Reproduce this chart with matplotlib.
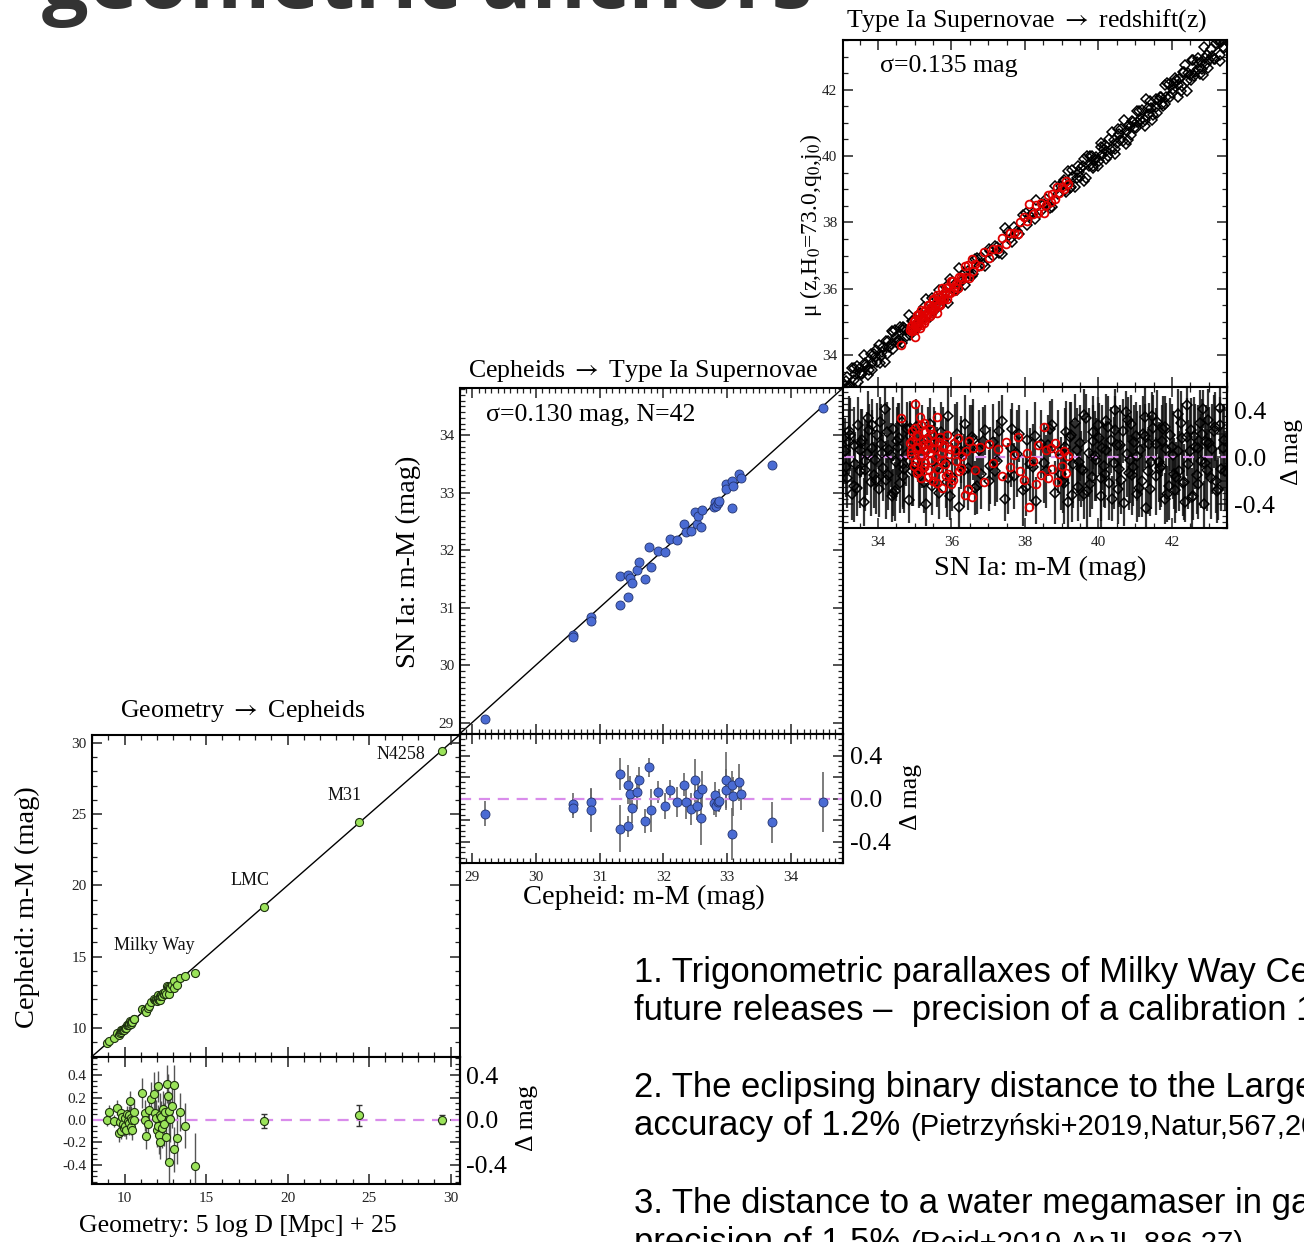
"""Distance-ladder slide: geometry -> Cepheids -> SN Ia -> redshift."""

import matplotlib
matplotlib.use("Agg")
import matplotlib.pyplot as plt
from matplotlib.ticker import FixedLocator, FormatStrFormatter, MultipleLocator

W, H, DPI = 1304, 1242, 100

# ---- Geometry -> Cepheids (Milky Way parallaxes + anchors) ----
mw_x = [8.94, 9.04, 9.34, 9.53, 9.63, 9.70, 9.79, 9.80, 9.86, 9.90,
        9.95, 10.00, 10.05, 10.10, 10.14, 10.20, 10.25, 10.30, 10.35, 10.37,
        10.42, 10.46, 10.48, 10.56, 10.60, 11.06, 11.23, 11.25, 11.29, 11.43,
        11.47, 11.64, 11.80, 11.88, 11.95, 12.00, 12.02, 12.06, 12.10, 12.15,
        12.20, 12.25, 12.30, 12.35, 12.40, 12.45, 12.56, 12.60, 12.65, 12.70,
        12.72, 12.80, 12.90, 13.02, 13.06, 13.21, 13.42, 13.68, 14.29]
mw_d = [0.00, 0.07, -0.01, 0.11, -0.12, -0.02, -0.10, 0.06, 0.03, -0.04,
        -0.07, 0.02, -0.05, -0.09, 0.05, -0.01, -0.03, 0.04, 0.17, -0.06,
        0.02, 0.00, -0.09, 0.07, 0.00, 0.24, 0.06, 0.00, -0.14, -0.04,
        0.09, 0.19, 0.23, 0.06, 0.02, -0.09, 0.30, -0.05, -0.13, -0.20,
        0.04, 0.03, -0.07, 0.10, -0.04, 0.07, -0.15, 0.32, 0.21, 0.08,
        -0.37, 0.01, 0.12, 0.31, -0.26, -0.16, 0.07, -0.05, -0.41]
mw_err = [0.05, 0.06, 0.05, 0.07, 0.08, 0.06, 0.07, 0.06, 0.05, 0.08,
          0.07, 0.06, 0.09, 0.08, 0.07, 0.06, 0.10, 0.08, 0.09, 0.07,
          0.10, 0.08, 0.09, 0.12, 0.11, 0.13, 0.12, 0.10, 0.12, 0.14,
          0.11, 0.15, 0.20, 0.13, 0.16, 0.15, 0.14, 0.18, 0.17, 0.15,
          0.20, 0.14, 0.18, 0.16, 0.19, 0.15, 0.22, 0.17, 0.20, 0.18,
          0.30, 0.21, 0.19, 0.18, 0.20, 0.23, 0.17, 0.20, 0.29]

anchor_names = ["LMC", "M31", "N4258"]
anchor_x = [18.53, 24.38, 29.45]
anchor_d = [-0.01, 0.04, 0.00]
anchor_err = [0.06, 0.09, 0.04]

# ---- Cepheids -> SN Ia (42 calibrators) ----
ceph_x = [29.20, 30.58, 30.58, 30.87, 30.87, 31.32, 31.32, 31.44, 31.44, 31.48,
          31.51, 31.59, 31.62, 31.71, 31.77, 31.81, 31.92, 32.03, 32.11, 32.21,
          32.32, 32.35, 32.44, 32.49, 32.53, 32.55, 32.59, 32.60, 32.79, 32.81,
          32.83, 32.85, 32.87, 32.98, 32.99, 33.07, 33.08, 33.09, 33.18, 33.22,
          33.70, 34.50]
ceph_d = [-0.14, -0.05, -0.09, -0.03, -0.11, 0.23, -0.28, 0.13, -0.26, 0.04,
          -0.09, 0.06, 0.17, -0.21, 0.29, -0.11, 0.06, -0.07, 0.08, -0.03,
          0.13, -0.03, -0.10, 0.17, -0.07, 0.04, -0.18, 0.09, -0.04, 0.03,
          -0.07, -0.03, -0.02, 0.17, 0.08, -0.33, 0.13, 0.02, 0.15, 0.04,
          -0.22, -0.03]
ceph_err = [0.12, 0.10, 0.09, 0.13, 0.20, 0.15, 0.22, 0.18, 0.10, 0.17,
            0.14, 0.16, 0.12, 0.11, 0.09, 0.20, 0.10, 0.12, 0.09, 0.14,
            0.11, 0.16, 0.15, 0.20, 0.13, 0.15, 0.25, 0.17, 0.11, 0.12,
            0.10, 0.09, 0.11, 0.26, 0.19, 0.24, 0.13, 0.18, 0.17, 0.15,
            0.19, 0.28]

# ---- SN Ia -> redshift (Hubble-flow sample, black) ----
hf_x = [33.10, 33.17, 33.21, 33.29, 33.34, 33.38, 33.46,
        33.50, 33.58, 33.61, 33.69, 33.73, 33.81, 33.85, 33.93, 33.98,
        34.02, 34.08, 34.15, 34.19, 34.27, 34.30, 34.38, 34.42, 34.49,
        34.53, 34.61, 34.65, 34.72, 34.76, 34.84, 34.88, 34.96,
        35.03, 35.12, 35.19, 35.30, 35.37, 35.48,
        35.55, 35.66, 35.73, 35.84, 35.91,
        36.02, 36.09, 36.21, 36.27, 36.38, 36.45,
        36.56, 36.63, 36.74, 36.81, 36.92,
        37.01, 37.13, 37.23, 37.37, 37.47,
        37.61, 37.71, 37.85, 37.95,
        38.07, 38.21, 38.31, 38.45,
        38.57, 38.67, 38.81, 38.91,
        39.03, 39.08, 39.17, 39.22, 39.31, 39.36, 39.45,
        39.50, 39.58, 39.62, 39.70, 39.74, 39.82, 39.86, 39.94, 39.98,
        40.06, 40.10, 40.18, 40.22, 40.30, 40.34, 40.42, 40.46,
        40.54, 40.58, 40.66, 40.70, 40.78, 40.82, 40.90, 40.94,
        41.02, 41.06, 41.14, 41.18, 41.26, 41.30, 41.38, 41.42, 41.48,
        41.56, 41.60, 41.68, 41.72, 41.80, 41.84, 41.92, 41.96,
        42.04, 42.08, 42.16, 42.20, 42.28, 42.32, 42.40, 42.44,
        42.52, 42.56, 42.64, 42.68, 42.76, 42.80, 42.88, 42.92, 42.98,
        43.06, 43.10, 43.18, 43.22, 43.30, 43.34, 43.42,
        33.14, 33.25, 33.42, 33.55, 33.66, 33.77, 33.89,
        34.05, 34.23, 34.35, 34.46, 34.57, 34.69, 34.80, 34.92,
        35.08, 35.25, 35.42, 35.60, 35.78, 35.97,
        36.15, 36.33, 36.50, 36.69, 36.87,
        37.06, 37.29, 37.54, 37.78,
        38.02, 38.27, 38.51, 38.74, 38.97,
        39.12, 39.27, 39.41, 39.54, 39.66, 39.78, 39.90,
        40.02, 40.14, 40.26, 40.38, 40.50, 40.62, 40.74, 40.86, 40.98,
        41.10, 41.22, 41.34, 41.45, 41.64, 41.76, 41.88,
        42.00, 42.12, 42.24, 42.36, 42.48, 42.60, 42.72, 42.84, 42.95,
        43.14, 43.26, 43.38,
        33.20, 33.36, 33.52, 33.64, 33.83, 33.95, 34.12, 34.25, 34.40, 34.55,
        34.68, 34.86, 35.15, 35.52, 35.88, 36.25, 36.60, 37.18, 37.66, 38.14,
        38.62, 39.06, 39.25, 39.48, 39.60, 39.84, 40.08, 40.20, 40.44, 40.56,
        40.80, 40.92, 41.04, 41.28, 41.40, 41.58, 41.70, 41.82, 42.06, 42.18,
        42.30, 42.42, 42.58, 42.70, 42.82, 42.90, 43.02, 43.20, 43.32, 43.44]
hf_d = [0.05, -0.18, 0.22, -0.31, 0.10, -0.06, 0.27,
        -0.12, 0.15, -0.38, 0.03, 0.33, -0.21, 0.08, -0.02, 0.19,
        -0.27, 0.11, -0.09, 0.41, -0.15, 0.06, -0.33, 0.24, -0.04,
        0.14, -0.22, 0.30, -0.10, 0.02, -0.36, 0.18, -0.07,
        0.26, -0.13, 0.09, -0.40, 0.16, -0.24,
        0.07, -0.30, 0.21, -0.05, 0.35,
        -0.17, 0.12, -0.42, 0.04, 0.28, -0.09,
        0.17, -0.26, 0.06, -0.14, 0.23,
        -0.20, 0.13, -0.03, 0.31, -0.35,
        0.08, -0.16, 0.20, -0.28,
        0.15, -0.08, -0.37, 0.11,
        -0.12, 0.24, -0.30, 0.05,
        -0.19, 0.09, -0.38, 0.17, -0.06, 0.29, -0.25,
        0.12, -0.11, 0.36, -0.29, 0.04, -0.17, 0.21, -0.02, 0.27,
        -0.33, 0.08, -0.14, 0.31, -0.22, 0.15, -0.05, 0.40,
        -0.27, 0.10, 0.22, -0.39, 0.03, -0.13, 0.28, -0.08,
        0.18, -0.31, 0.06, -0.20, 0.34, -0.43, 0.11, -0.04, 0.25,
        -0.16, 0.30, -0.09, 0.14, -0.35, 0.07, -0.24, 0.19,
        0.02, -0.28, 0.37, -0.12, 0.16, -0.21, 0.44, -0.06,
        0.23, -0.34, 0.09, -0.15, 0.29, -0.03, -0.40, 0.13, 0.32,
        -0.18, 0.07, 0.26, -0.29, 0.42, -0.10, 0.15,
        -0.08, 0.19, -0.26, 0.12, -0.03, 0.23, -0.15,
        0.30, -0.19, 0.02, -0.29, 0.16, -0.06, 0.24, -0.12,
        0.11, -0.21, 0.28, -0.08, 0.15, -0.33,
        0.20, -0.11, 0.09, -0.24, 0.14,
        -0.07, 0.22, -0.18, 0.03,
        -0.25, 0.18, -0.05, 0.27, -0.14,
        0.21, -0.32, 0.06, -0.10, 0.33, -0.23, 0.01,
        0.16, -0.07, 0.26, -0.35, 0.10, -0.19, 0.38, -0.02, 0.13,
        -0.26, 0.20, -0.12, 0.35, -0.04, 0.24, -0.31,
        0.09, -0.17, 0.29, -0.38, 0.05, 0.18, -0.23, 0.41, -0.11,
        0.22, -0.27, 0.08,
        0.13, -0.24, 0.06, -0.11, 0.27, -0.19, 0.04, 0.21, -0.30, 0.09,
        -0.16, 0.25, -0.09, 0.18, -0.21, 0.05, 0.15, -0.12, 0.24, -0.06,
        0.10, -0.22, 0.19, -0.04, -0.31, 0.14, -0.18, 0.06, 0.23, -0.10,
        0.32, -0.15, 0.01, 0.18, -0.27, 0.11, -0.07, 0.26, -0.14, 0.05,
        -0.22, 0.17, -0.33, 0.08, 0.20, -0.05, 0.12, -0.20, 0.27, -0.12]
hf_err = [0.28, 0.25, 0.30, 0.22, 0.33, 0.27, 0.24,
          0.31, 0.26, 0.20, 0.35, 0.23, 0.29, 0.32, 0.25, 0.27,
          0.24, 0.34, 0.28, 0.21, 0.30, 0.36, 0.22, 0.27, 0.33,
          0.29, 0.25, 0.31, 0.37, 0.26, 0.20, 0.28, 0.34,
          0.23, 0.30, 0.35, 0.18, 0.27, 0.25,
          0.32, 0.22, 0.26, 0.38, 0.24,
          0.29, 0.33, 0.17, 0.31, 0.25, 0.36,
          0.27, 0.23, 0.34, 0.30, 0.21,
          0.26, 0.32, 0.35, 0.22, 0.19,
          0.33, 0.28, 0.24, 0.30,
          0.25, 0.36, 0.20, 0.29,
          0.31, 0.24, 0.27, 0.35,
          0.28, 0.33, 0.21, 0.30, 0.37, 0.25, 0.29,
          0.32, 0.26, 0.22, 0.30, 0.38, 0.27, 0.31, 0.35, 0.24,
          0.26, 0.36, 0.29, 0.23, 0.31, 0.28, 0.39, 0.18,
          0.30, 0.34, 0.27, 0.19, 0.37, 0.32, 0.25, 0.33,
          0.29, 0.24, 0.38, 0.31, 0.26, 0.16, 0.35, 0.40, 0.28,
          0.33, 0.27, 0.36, 0.30, 0.22, 0.39, 0.29, 0.31,
          0.37, 0.28, 0.21, 0.34, 0.30, 0.32, 0.15, 0.38,
          0.27, 0.25, 0.36, 0.33, 0.28, 0.40, 0.20, 0.31, 0.26,
          0.34, 0.38, 0.29, 0.27, 0.17, 0.36, 0.30,
          0.26, 0.31, 0.24, 0.29, 0.35, 0.22, 0.28,
          0.21, 0.33, 0.27, 0.25, 0.30, 0.36, 0.23, 0.29,
          0.32, 0.26, 0.22, 0.34, 0.28, 0.20,
          0.27, 0.31, 0.35, 0.24, 0.29,
          0.33, 0.26, 0.30, 0.37,
          0.25, 0.29, 0.34, 0.22, 0.31,
          0.27, 0.23, 0.36, 0.32, 0.21, 0.28, 0.38,
          0.30, 0.35, 0.26, 0.19, 0.33, 0.29, 0.18, 0.37, 0.31,
          0.25, 0.32, 0.36, 0.20, 0.34, 0.28, 0.24,
          0.36, 0.30, 0.27, 0.17, 0.38, 0.33, 0.29, 0.16, 0.35,
          0.31, 0.26, 0.37,
          0.27, 0.31, 0.24, 0.35, 0.22, 0.29, 0.33, 0.26, 0.20, 0.37,
          0.28, 0.23, 0.32, 0.25, 0.30, 0.27, 0.34, 0.29, 0.22, 0.31,
          0.26, 0.35, 0.28, 0.33, 0.21, 0.30, 0.36, 0.25, 0.29, 0.32,
          0.19, 0.34, 0.38, 0.27, 0.23, 0.31, 0.35, 0.26, 0.30, 0.37,
          0.28, 0.33, 0.20, 0.36, 0.29, 0.39, 0.31, 0.27, 0.24, 0.34]

# ---- SN Ia -> redshift (red subsample) ----
red_x = [34.63, 34.86, 34.90, 34.94, 35.01, 35.02, 35.05, 35.09, 35.15, 35.12,
         35.18, 35.20, 35.23, 35.26, 35.28, 35.31, 35.35, 35.37, 35.41, 35.44,
         35.46, 35.50, 35.53, 35.57, 35.62, 35.64, 35.68, 35.71, 35.75, 35.79,
         35.83, 35.87, 35.90, 35.95, 36.00, 36.06, 36.12, 36.18, 36.25, 36.37,
         36.40, 36.47, 36.55, 36.64, 36.77, 36.90, 37.03, 37.14, 37.28, 37.37,
         37.49, 37.60, 37.70, 37.82, 37.88, 37.97, 38.07, 38.12, 38.22, 38.30,
         38.37, 38.44, 38.53, 38.58, 38.64, 38.70, 38.75, 38.83, 38.87, 38.93,
         39.01, 39.07, 39.11, 39.17,
         34.89, 34.93, 34.97, 35.00, 35.04, 35.07, 35.10, 35.14, 35.17, 35.22,
         35.25, 35.29, 35.33, 35.39, 35.43, 35.48, 35.51, 35.56, 35.60, 35.66,
         35.73, 35.77, 35.85, 35.93, 36.03, 36.10, 36.22, 36.30, 36.44, 36.60]
red_d = [0.33, 0.12, 0.05, 0.22, 0.455, -0.04, 0.18, 0.09, 0.34, -0.12,
         0.27, 0.02, 0.15, -0.08, 0.21, 0.06, -0.17, 0.11, 0.24, -0.02,
         0.08, -0.20, 0.13, 0.00, 0.34, -0.10, 0.17, 0.04, -0.26, 0.10,
         -0.06, 0.19, -0.14, 0.07, -0.23, 0.12, -0.03, 0.16, -0.09, -0.32,
         0.05, 0.14, -0.34, -0.11, 0.09, -0.21, 0.11, -0.05, 0.07, -0.16,
         0.13, -0.08, 0.02, 0.17, -0.12, -0.19, 0.04, -0.42, -0.03, -0.23,
         0.10, -0.15, 0.26, 0.06, -0.18, 0.08, -0.10, 0.12, -0.21, 0.03,
         -0.07, 0.05, -0.13, 0.01,
         0.02, 0.14, -0.07, 0.25, 0.08, -0.13, 0.19, 0.01, -0.18, 0.10,
         0.29, -0.05, 0.16, -0.11, 0.04, 0.20, -0.15, 0.07, -0.22, 0.13,
         -0.02, 0.09, -0.16, 0.03, -0.19, 0.06, -0.12, 0.01, -0.27, 0.08]

# ---- slide text ----
TITLE = "geometric anchors"
BULLETS = [
    ("1. Trigonometric parallaxes of Milky Way Cepheids", None),
    ("future releases \u2013  precision of a calibration 1%", None),
    ("2. The eclipsing binary distance to the Large Magellanic Cloud", None),
    ("accuracy of 1.2%", "(Pietrzy\u0144ski+2019,Natur,567,200)"),
    ("3. The distance to a water megamaser in galaxy NGC 4258", None),
    ("precision of 1.5%", "(Reid+2019,ApJL,886,27)"),
]
BULLET_BASELINES = [981.7, 1020, 1096.7, 1135, 1213, 1251.7]

# ---- styling ----
SERIF = ["Liberation Serif", "DejaVu Serif"]
SANS = ["Liberation Sans", "DejaVu Sans"]
DASH = "#D98CEB"
GREEN = "#9BE35A"
BLUE = "#4A6BD3"

plt.rcParams.update({
    "font.family": SERIF,
    "mathtext.fontset": "stix",
    "axes.unicode_minus": False,
    "axes.linewidth": 1.5,
    "xtick.direction": "in",
    "ytick.direction": "in",
    "xtick.top": True,
    "ytick.right": True,
    "xtick.major.size": 7,
    "ytick.major.size": 7,
    "xtick.minor.size": 3.5,
    "ytick.minor.size": 3.5,
    "xtick.major.width": 1.1,
    "ytick.major.width": 1.1,
    "xtick.minor.width": 0.9,
    "ytick.minor.width": 0.9,
    "xtick.labelsize": 11,
    "ytick.labelsize": 11,
    "xtick.color": "#222222",
    "ytick.color": "#222222",
    "xtick.major.pad": 6,
    "ytick.major.pad": 4,
})


def box(left, top, right, bottom):
    return [left / W, 1 - bottom / H, (right - left) / W, (bottom - top) / H]


def ftext(x, y, s, **kw):
    return fig.text(x / W, 1 - y / H, s, **kw)


def main_panel(ax, lim, major, minor):
    ax.set_xlim(lim)
    ax.set_ylim(lim)
    ax.plot(lim, lim, color="black", lw=1.0, zorder=1)
    for axis in (ax.xaxis, ax.yaxis):
        axis.set_major_locator(MultipleLocator(major))
        axis.set_minor_locator(MultipleLocator(minor))
    ax.tick_params(labelbottom=False)


def resid_panel(ax, xlim, ylim, major, minor, left_labels):
    ax.set_xlim(xlim)
    ax.set_ylim(ylim)
    ax.axhline(0, color=DASH, lw=1.6, ls=(0, (5, 3.5)), zorder=2.5)
    ax.xaxis.set_major_locator(MultipleLocator(major))
    ax.xaxis.set_minor_locator(MultipleLocator(minor))
    ax.yaxis.set_major_locator(FixedLocator([-0.4, -0.2, 0.0, 0.2, 0.4]))
    ax.yaxis.set_minor_locator(MultipleLocator(0.05))
    ax.yaxis.set_major_formatter(FormatStrFormatter("%.1f"))
    ax.tick_params(axis="y", labelleft=left_labels)
    sec = ax.secondary_yaxis("right")
    sec.set_yticks([-0.4, 0.0, 0.4])
    sec.set_yticklabels(["-0.4", "0.0", "0.4"])
    sec.tick_params(length=0, labelsize=18.5, pad=5, colors="black")


fig = plt.figure(figsize=(W / DPI, H / DPI), dpi=DPI)

axA = fig.add_axes(box(92, 735, 459.5, 1056.5))
axAr = fig.add_axes(box(92, 1056.5, 459.5, 1184))
axB = fig.add_axes(box(459.5, 388, 843, 734))
axBr = fig.add_axes(box(459.5, 734, 843, 863))
axC = fig.add_axes(box(843, 40, 1227, 386.5))
axCr = fig.add_axes(box(843, 386.5, 1227, 528))

# Panel A: geometry -> Cepheids
limA = (8.0, 30.55)
main_panel(axA, limA, 5, 1)
resid_panel(axAr, limA, (-0.57, 0.565), 5, 1, True)
green_kw = dict(marker="o", ms=5.8, mfc=GREEN, mec="#1E3210", mew=0.8, ls="none", zorder=3)
axA.plot(mw_x, [x + d for x, d in zip(mw_x, mw_d)], **green_kw)
axA.plot(anchor_x, [x + d for x, d in zip(anchor_x, anchor_d)], **green_kw)
axAr.errorbar(mw_x, mw_d, yerr=mw_err, fmt="none", ecolor="#555555", elinewidth=1.0, zorder=2)
axAr.errorbar(anchor_x, anchor_d, yerr=anchor_err, fmt="none", ecolor="#333333",
              elinewidth=1.0, capsize=2, zorder=2)
axAr.plot(mw_x, mw_d, **green_kw)
axAr.plot(anchor_x, anchor_d, **green_kw)
label_pos = {"N4258": (26.98, 28.86), "M31": (23.50, 25.98), "LMC": (17.67, 20.01)}
for name in anchor_names:
    axA.text(*label_pos[name], name, ha="center", va="baseline", fontsize=13, color="#111111")
axA.text(11.81, 15.45, "Milky Way", ha="center", va="baseline", fontsize=13, color="#111111")

# Panel B: Cepheids -> SN Ia
limB = (28.8, 34.82)
main_panel(axB, limB, 1, 0.1)
resid_panel(axBr, limB, (-0.6, 0.6), 1, 0.1, False)
blue_kw = dict(marker="o", ms=6.5, mfc=BLUE, mec="#22336E", mew=0.6, ls="none", zorder=3)
axB.plot(ceph_x, [x + d for x, d in zip(ceph_x, ceph_d)], **blue_kw)
axBr.errorbar(ceph_x, ceph_d, yerr=ceph_err, fmt="none", ecolor="#666666", elinewidth=1.2, zorder=2)
axBr.plot(ceph_x, ceph_d, **blue_kw)
axB.text(0.069, 0.922, "\u03c3=0.130 mag, N=42", transform=axB.transAxes,
         fontsize=18.6, va="center", ha="left")

# Panel C: SN Ia -> redshift
limC = (33.05, 43.5)
main_panel(axC, limC, 2, 0.5)
resid_panel(axCr, limC, (-0.6, 0.6), 2, 0.5, False)
black_kw = dict(marker="D", ms=4.6, mfc="none", mec="black", mew=1.1, ls="none", zorder=3)
red_kw = dict(marker="o", ms=5.6, mfc="none", mec="#E00000", mew=1.3, ls="none", zorder=4)
axC.plot(hf_x, [x - d for x, d in zip(hf_x, hf_d)], **black_kw)
axC.plot(red_x, [x - d for x, d in zip(red_x, red_d)], **red_kw)
axCr.errorbar(hf_x, hf_d, yerr=hf_err, fmt="none", ecolor="#111111", elinewidth=1.6,
              alpha=0.85, zorder=2)
axCr.plot(hf_x, hf_d, **black_kw)
axCr.plot(red_x, red_d, **red_kw)
axC.text(0.096, 0.925, "\u03c3=0.135 mag", transform=axC.transAxes,
         fontsize=18.6, va="center", ha="left")

# Panel titles and axis labels
ftext(243, 717, r"Geometry $\rightarrow$ Cepheids", fontsize=18.6, ha="center", va="baseline")
ftext(643, 377, r"Cepheids $\rightarrow$ Type Ia Supernovae", fontsize=18.6,
      ha="center", va="baseline")
ftext(1027, 27, r"Type Ia Supernovae $\rightarrow$ redshift(z)", fontsize=18.6,
      ha="center", va="baseline")

ftext(27, 907, "Cepheid: m-M (mag)", fontsize=20.5, rotation=90, ha="center", va="center")
ftext(238, 1226, "Geometry: 5 log D [Mpc] + 25", fontsize=18.5, ha="center", va="center")
ftext(408, 562, "SN Ia: m-M (mag)", fontsize=20.5, rotation=90, ha="center", va="center")
ftext(644, 897, "Cepheid: m-M (mag)", fontsize=20.5, ha="center", va="center")
ftext(811, 226, "\u03bc (z,H$_0$=73.0,q$_0$,j$_0$)",
      fontsize=17, rotation=90, ha="center", va="center")
ftext(1040, 568, "SN Ia: m-M (mag)", fontsize=20.5, ha="center", va="center")
for x, y in [(527, 1118), (911, 797), (1292, 452)]:
    ftext(x, y, "\u0394 mag", fontsize=18.5, rotation=90, ha="center", va="center")

# Slide title (runs off the top edge) and bullet text (runs off the right edge)
ftext(42, 8, TITLE, fontsize=59.5, fontweight="bold", family=["Open Sans", "DejaVu Sans"],
      color="#333333", va="baseline", ha="left")

renderer = fig.canvas.get_renderer()
for (main, cite), base in zip(BULLETS, BULLET_BASELINES):
    t = ftext(634, base, main, fontsize=24.9, family=SANS, va="baseline", ha="left")
    if cite:
        x1 = t.get_window_extent(renderer).x1
        ftext(x1 + 10, base, cite, fontsize=21, family=SANS, va="baseline", ha="left")

fig.savefig("out.png", dpi=DPI)
